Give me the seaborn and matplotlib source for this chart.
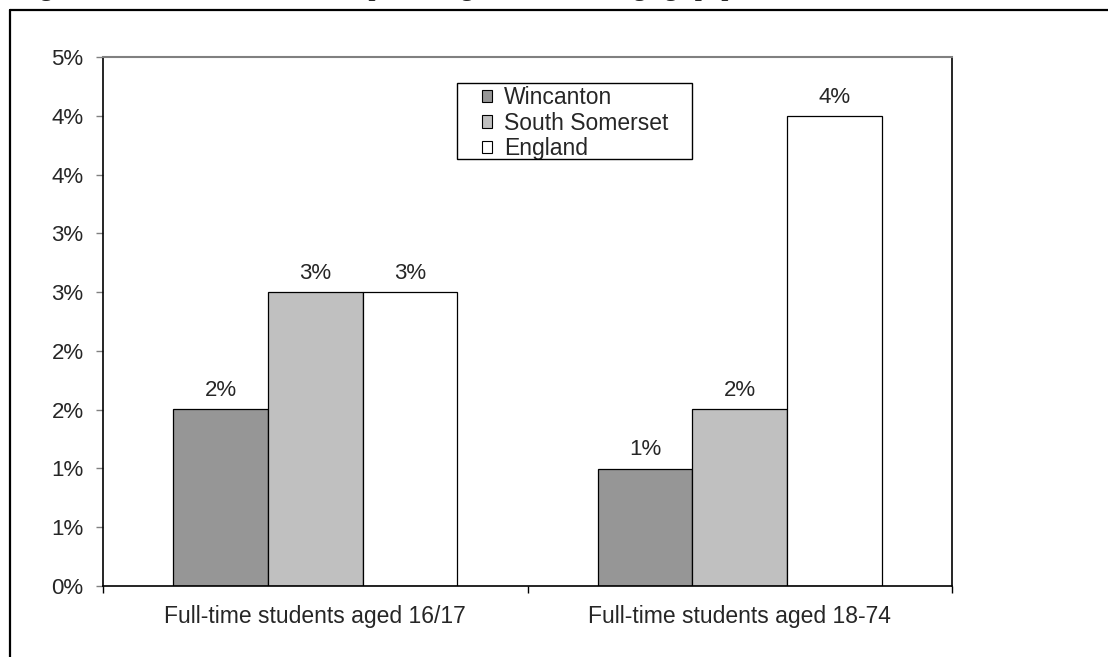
import matplotlib
matplotlib.use("Agg")
import matplotlib.pyplot as plt
import matplotlib.ticker as mticker
from matplotlib.lines import Line2D
from matplotlib.patches import Rectangle
import pandas as pd
import seaborn as sns

categories = ["Full-time students aged 16/17", "Full-time students aged 18-74"]
areas = ["Wincanton", "South Somerset", "England"]
wincanton = [1.67, 1.11]
south_somerset = [2.78, 1.67]
england = [2.78, 4.44]
area_colors = ["#969696", "#C0C0C0", "#FFFFFF"]
y_ticks = [i * 5 / 9 for i in range(10)]

df = pd.DataFrame({
    "category": categories * 3,
    "area": [a for a in areas for _ in categories],
    "value": wincanton + south_somerset + england,
})

sns.set_style("white")
plt.rcParams["font.family"] = ["Liberation Sans", "DejaVu Sans"]

W, H = 1108, 657
fig = plt.figure(figsize=(W / 100, H / 100), dpi=100)
ax = fig.add_axes([103 / W, 1 - 586 / H, 849 / W, 529 / H])

sns.barplot(data=df, x="category", y="value", hue="area", hue_order=areas,
            palette=area_colors, width=0.668, edgecolor="black", linewidth=0.9,
            saturation=1, ax=ax, legend=True)

for container in ax.containers:
    ax.bar_label(container, fmt="{:.0f}%", padding=6, fontsize=16)

ax.set_ylim(0, 5)
ax.set_xlim(-0.5, 1.5)
ax.set_yticks(y_ticks)
ax.yaxis.set_major_formatter(mticker.FuncFormatter(lambda v, _: f"{v:.0f}%"))
ax.tick_params(axis="y", labelsize=16, length=5, width=1, color="#808080",
               direction="out", left=True, pad=9)
ax.set_xticks([0, 1])
ax.set_xticklabels(categories)
ax.set_xticks([-0.5, 0.5, 1.5], minor=True)
ax.tick_params(axis="x", which="major", length=0, labelsize=16.5, pad=14)
ax.tick_params(axis="x", which="minor", length=5, width=1, color="black",
               direction="out", bottom=True)
ax.set_xlabel("")
ax.set_ylabel("")

for side in ["left", "bottom", "right"]:
    ax.spines[side].set_color("black")
    ax.spines[side].set_linewidth(1.2)
ax.spines["top"].set_color("#808080")
ax.spines["top"].set_linewidth(1.5)

# legend entries without their own frame; a separate box surrounds them
leg = ax.legend(loc="upper left",
                bbox_to_anchor=((482 - 103) / 849, (586 - 86) / 529),
                fontsize=16.5, frameon=False,
                handlelength=0.45, handleheight=0.45, handletextpad=0.5,
                borderpad=0, labelspacing=0.12, borderaxespad=0)
for h in leg.legend_handles:
    h.set_edgecolor("black")
    h.set_linewidth(0.8)
fig.add_artist(Rectangle((457 / W, 1 - 159 / H), 235 / W, 76 / H,
                         transform=fig.transFigure, fill=False,
                         edgecolor="black", linewidth=1.0))

# outer frame around the figure
fig.add_artist(Line2D([10 / W, 1.0], [1 - 10 / H, 1 - 10 / H],
                      transform=fig.transFigure, color="black", linewidth=1.6))
fig.add_artist(Line2D([10 / W, 10 / W], [0.0, 1 - 10 / H],
                      transform=fig.transFigure, color="black", linewidth=1.6))

# heading sits mostly above the top edge, only its descenders show
fig.text(18 / W, 1.0 + 4.2 / H,
         "Figure 9: Full-time students as a percentage of the working age population",
         fontsize=18, fontweight="bold", family=["Liberation Serif", "DejaVu Serif"],
         va="baseline", ha="left")

fig.savefig("out.png", dpi=100)
